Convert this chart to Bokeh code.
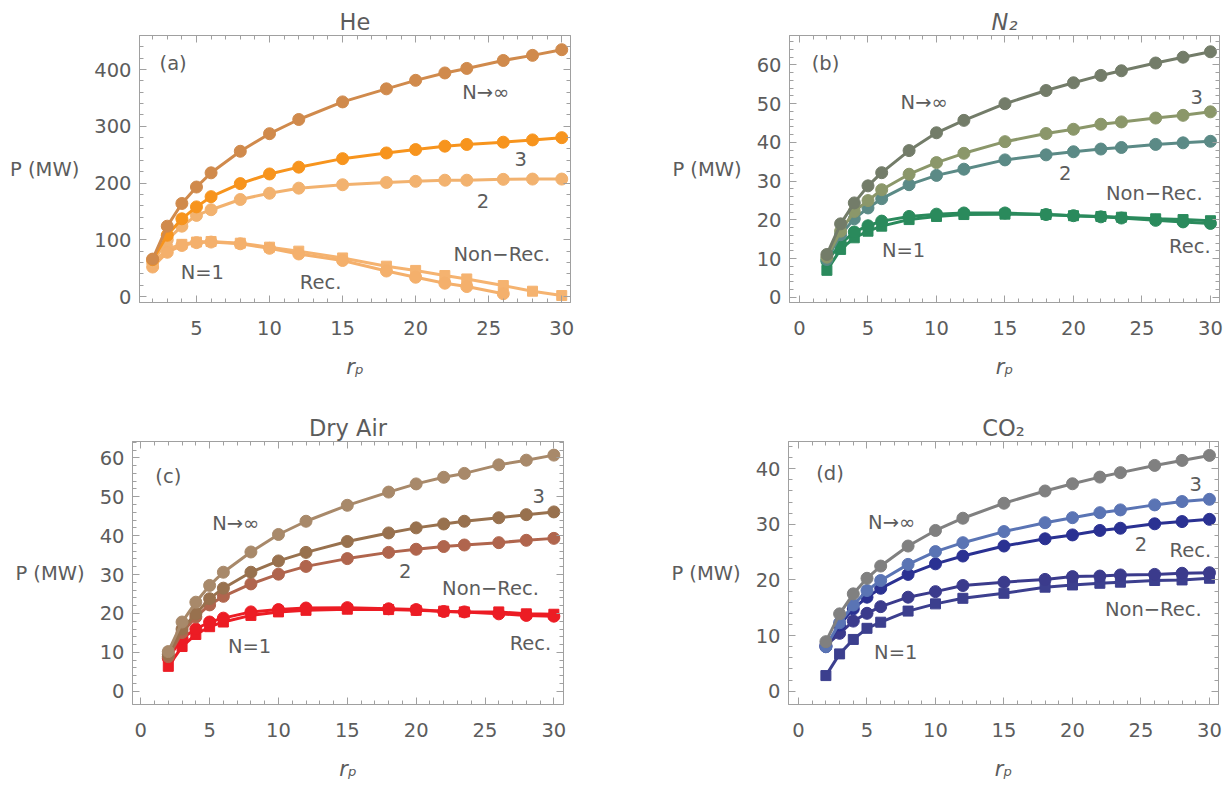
from bokeh.plotting import figure
from bokeh.models import Label, LinearAxis, FixedTicker, Range1d, Title
from bokeh.layouts import column, row
from bokeh.embed import file_html
from bokeh.resources import INLINE
import numpy as np

# ---------------- data ----------------
rp = [2, 3, 4, 5, 6, 8, 10, 12, 15, 18, 20, 22, 23.5, 26, 28, 30]

he_inf = [66, 124, 164, 193, 218, 256, 287, 312, 343, 366, 381, 394, 402, 416, 425, 435]
he_3 = [65, 108, 137, 158, 176, 199, 216, 228, 243, 253, 259, 265, 268, 272, 276, 280]
he_2 = [60, 100, 124, 143, 153, 171, 182, 191, 197, 201, 203, 205, 205, 206.5, 207, 207]
he_1_rec = [52, 78, 90, 95, 96, 93, 85, 75, 63.5, 45, 34, 23.5, 17.6, 5]
he_1_nonrec = [58, 84, 92, 96, 97, 94, 87, 80, 68, 53.5, 46, 37, 31, 19.4, 9.4, 1.8]

n2_inf = [11.1, 19.0, 24.4, 28.8, 32.2, 37.9, 42.5, 45.7, 50.0, 53.4, 55.4, 57.3, 58.5, 60.5, 62.0, 63.4]
n2_3 = [10.4, 17.1, 22.2, 25.0, 27.8, 31.8, 34.8, 37.2, 40.2, 42.3, 43.4, 44.7, 45.3, 46.3, 47.0, 47.9]
n2_2 = [9.8, 16.2, 20.3, 23.1, 25.5, 29.1, 31.5, 33.1, 35.5, 36.8, 37.6, 38.3, 38.7, 39.5, 39.9, 40.3]
n2_1_rec = [9.4, 13.8, 16.9, 18.5, 19.7, 20.9, 21.5, 21.8, 21.8, 21.4, 21.1, 20.8, 20.5, 19.9, 19.5, 19.1]
n2_1_nonrec = [7.0, 12.4, 15.4, 17.1, 18.4, 20.1, 20.9, 21.4, 21.5, 21.4, 21.1, 20.9, 20.7, 20.3, 20.1, 19.8]

air_inf = [10.2, 17.8, 22.9, 27.2, 30.6, 35.8, 40.3, 43.7, 47.8, 51.2, 53.3, 55.0, 56.0, 58.2, 59.4, 60.7]
air_3 = [9.5, 16.0, 19.9, 23.8, 26.5, 30.6, 33.5, 35.7, 38.5, 40.7, 42.0, 43.0, 43.7, 44.6, 45.4, 46.1]
air_2 = [8.9, 15.1, 19.1, 22.2, 24.4, 27.6, 30.1, 32.1, 34.1, 35.7, 36.5, 37.2, 37.6, 38.2, 38.8, 39.3]
air_1_rec = [8.5, 13.6, 16.0, 17.8, 18.8, 20.4, 21.0, 21.4, 21.5, 21.2, 21.0, 20.5, 20.4, 19.9, 19.5, 19.3]
air_1_nonrec = [6.4, 11.5, 14.6, 16.6, 17.8, 19.5, 20.4, 20.8, 21.1, 21.0, 20.8, 20.6, 20.4, 20.4, 19.9, 19.8]

co2_inf = [8.9, 13.9, 17.5, 20.3, 22.5, 26.1, 28.9, 31.1, 33.8, 36.0, 37.3, 38.5, 39.3, 40.6, 41.5, 42.4]
co2_3 = [8.0, 12.3, 15.5, 18.1, 19.9, 22.8, 25.1, 26.7, 28.7, 30.3, 31.2, 32.1, 32.6, 33.5, 34.1, 34.5]
co2_2 = [8.0, 11.9, 14.8, 16.9, 18.5, 21.0, 22.9, 24.3, 26.1, 27.4, 28.1, 28.9, 29.3, 30.1, 30.5, 30.9]
co2_1_rec = [8.2, 10.4, 12.6, 14.0, 15.2, 16.9, 17.9, 19.0, 19.6, 20.1, 20.6, 20.7, 20.9, 21.0, 21.2, 21.3]
co2_1_nonrec = [2.8, 6.7, 9.3, 11.3, 12.4, 14.4, 15.7, 16.7, 17.6, 18.7, 19.1, 19.4, 19.6, 19.9, 20.0, 20.3]

# ---------------- style ----------------
FONT = "DejaVu Sans"
TXT = "#5c5c5c"
FRAME = "#a0a0a0"
TICK_FS = "19.5px"
ANN_FS = "19.5px"


def style_axis(ax, major, minor, labels=True, standoff=8):
    ax.ticker = FixedTicker(ticks=major, minor_ticks=minor)
    ax.axis_line_color = FRAME
    ax.major_tick_line_color = FRAME
    ax.minor_tick_line_color = FRAME
    ax.major_tick_in = 7
    ax.major_tick_out = 0
    ax.minor_tick_in = 4
    ax.minor_tick_out = 0
    if labels:
        ax.major_label_text_font = FONT
        ax.major_label_text_font_size = TICK_FS
        ax.major_label_text_color = TXT
        ax.major_label_standoff = standoff
    else:
        ax.major_label_text_font_size = "0px"
        ax.major_label_standoff = 0
        ax.major_label_overrides = {float(t): "" for t in major}


def panel(width, height, borders, xr, yr, xmajor, ymajor, yminor_step,
          title, title_italic, letter, series, labels):
    bl, br, bt, bb = borders
    p = figure(width=width, height=height, x_range=Range1d(*xr), y_range=Range1d(*yr),
               output_backend="svg", toolbar_location=None,
               min_border_left=bl, min_border_right=br, min_border_top=bt, min_border_bottom=bb)
    p.xgrid.visible = False
    p.ygrid.visible = False
    p.outline_line_color = FRAME
    p.background_fill_color = "white"
    p.border_fill_color = "white"

    p.title = Title(text=title, align="center", text_font=FONT, text_font_size="22.5px",
                    text_color=TXT, text_font_style="italic" if title_italic else "normal",
                    standoff=1)

    xminor = list(range(int(np.ceil(xr[0])), int(np.floor(xr[1])) + 1))
    yminor = list(np.arange(0, yr[1], yminor_step))
    style_axis(p.xaxis[0], xmajor, xminor, True, 18)
    style_axis(p.yaxis[0], ymajor, yminor, True, 8)
    xa = p.xaxis[0]
    xa.axis_label = "r\u209a"
    xa.axis_label_text_font = FONT
    xa.axis_label_text_font_style = "italic"
    xa.axis_label_text_font_size = "21px"
    xa.axis_label_text_color = TXT
    xa.axis_label_standoff = 17
    ya = p.yaxis[0]
    ya.axis_label = "P (MW)"
    ya.axis_label_orientation = "horizontal"
    ya.axis_label_text_font = FONT
    ya.axis_label_text_font_style = "normal"
    ya.axis_label_text_font_size = ANN_FS
    ya.axis_label_text_color = TXT
    ya.axis_label_standoff = 12

    top = LinearAxis()
    style_axis(top, xmajor, xminor, False)
    p.add_layout(top, "above")
    right = LinearAxis()
    style_axis(right, ymajor, yminor, False)
    p.add_layout(right, "right")

    for xs, ys, color, marker in series:
        p.line(xs, ys, line_color=color, line_width=3)
        if marker == "circle":
            p.scatter(xs, ys, marker="circle", size=12, fill_color=color, line_color=color)
        else:
            p.scatter(xs, ys, marker="square", size=10, fill_color=color, line_color=color)

    for (lx, ly, txt) in [letter] + labels:
        p.add_layout(Label(x=lx, y=ly, text=txt, text_align="center", text_baseline="middle",
                           text_font=FONT, text_font_size=ANN_FS, text_color=TXT))
    return p


n = len(he_1_rec)
pa = panel(610, 393, (139, 40, 35, 91), (1.1, 30.6), (-10.5, 460),
           [5, 10, 15, 20, 25, 30], [0, 100, 200, 300, 400], 20,
           "He", False, (3.4, 410, "(a)"),
           [(rp, he_1_nonrec, "#f5b370", "square"),
            (rp[:n], he_1_rec, "#f4b06c", "circle"),
            (rp, he_2, "#f2b26f", "circle"),
            (rp, he_3, "#f7941d", "circle"),
            (rp, he_inf, "#d08a4c", "circle")],
           [(24.8, 360, "N\u2192\u221e"), (27.2, 243, "3"), (24.6, 169, "2"),
            (25.9, 74, "Non\u2212Rec."), (5.4, 43, "N=1"), (13.5, 25, "Rec.")])

pb = panel(619, 393, (179, 10, 35, 91), (-0.73, 30.66), (-1.3, 67.6),
           [0, 5, 10, 15, 20, 25, 30], [0, 10, 20, 30, 40, 50, 60], 2,
           "N\u2082", True, (1.9, 60.3, "(b)"),
           [(rp, n2_1_nonrec, "#2a8a5c", "square"),
            (rp, n2_1_rec, "#2a8a5c", "circle"),
            (rp, n2_2, "#5b8a86", "circle"),
            (rp, n2_3, "#8b976a", "circle"),
            (rp, n2_inf, "#737c69", "circle")],
           [(9.1, 50.3, "N\u2192\u221e"), (29.0, 51.7, "3"), (19.4, 32.1, "2"),
            (25.9, 26.9, "Non\u2212Rec."), (7.6, 12.1, "N=1"), (28.5, 13.2, "Rec.")])

pc = panel(610, 390, (132, 47, 48, 77), (-0.6, 30.7), (-3.4, 64.2),
           [0, 5, 10, 15, 20, 25, 30], [0, 10, 20, 30, 40, 50, 60], 2,
           "Dry Air", False, (2.0, 55.2, "(c)"),
           [(rp, air_1_nonrec, "#ec1c24", "square"),
            (rp, air_1_rec, "#ec1c24", "circle"),
            (rp, air_2, "#b0654d", "circle"),
            (rp, air_3, "#98714e", "circle"),
            (rp, air_inf, "#a8896a", "circle")],
           [(6.9, 43.1, "N\u2192\u221e"), (28.9, 50.3, "3"), (19.2, 30.8, "2"),
            (25.4, 26.3, "Non\u2212Rec."), (7.9, 11.5, "N=1"), (28.3, 12.3, "Rec.")])

pd_ = panel(619, 390, (178, 11, 48, 77), (-0.73, 30.66), (-2.4, 44.9),
            [0, 5, 10, 15, 20, 25, 30], [0, 10, 20, 30, 40], 2,
            "CO\u2082", False, (2.3, 39.1, "(d)"),
            [(rp, co2_1_nonrec, "#3c3f8e", "square"),
             (rp, co2_1_rec, "#3b3b8c", "circle"),
             (rp, co2_2, "#2a3192", "circle"),
             (rp, co2_3, "#5a74b4", "circle"),
             (rp, co2_inf, "#808080", "circle")],
            [(6.8, 30.3, "N\u2192\u221e"), (29.0, 37.3, "3"), (25.0, 26.5, "2"),
             (28.6, 25.3, "Rec."), (25.9, 14.7, "Non\u2212Rec."), (7.1, 6.9, "N=1")])

layout = column(row(pa, pb), row(pc, pd_))

open("out.html", "w").write(file_html(layout, INLINE))
